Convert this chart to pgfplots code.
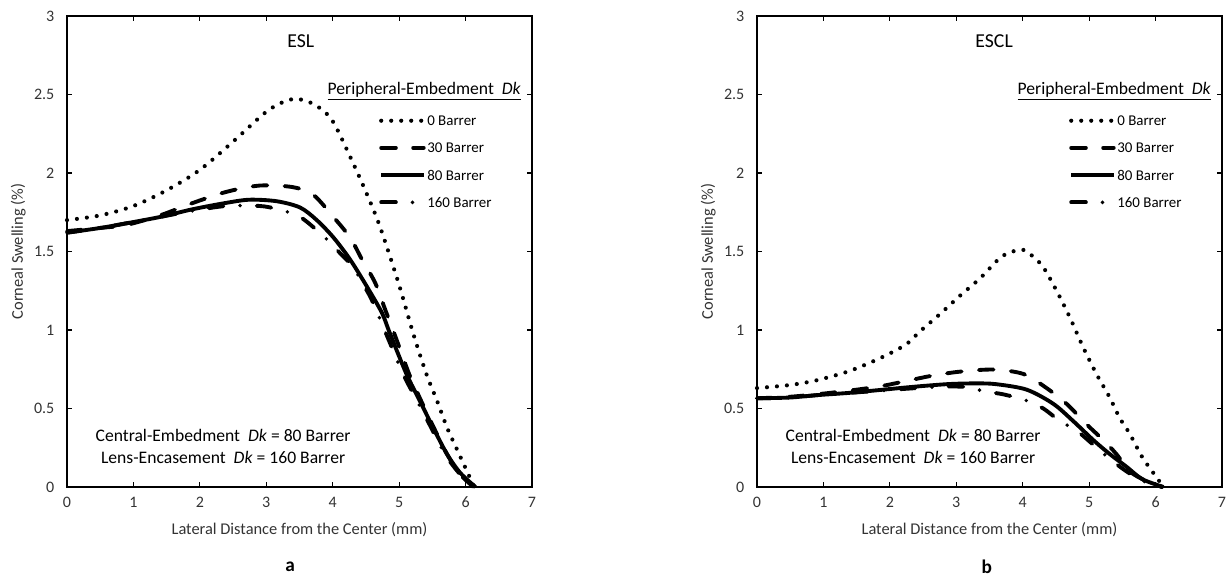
\documentclass[border=0pt]{standalone}
\usepackage{fontspec}
\setmainfont{Carlito}
\usepackage{pgfplots}
\pgfplotsset{compat=1.18}

\pgfplotsset{
  swell/.style={
    scale only axis, width=348.75pt, height=353.25pt,
    xmin=0, xmax=7, ymin=0, ymax=3,
    xtick={0,1,...,7}, ytick={0,0.5,1,1.5,2,2.5,3},
    tick align=inside, major tick length=4pt,
    axis line style={line width=1.1pt},
    every tick/.style={line width=0.9pt, black},
    tick label style={font=\fontsize{12}{14}\selectfont, text=black!80},
    xticklabel style={yshift=-4pt},
    yticklabel style={xshift=-6pt},
    /pgf/number format/assume math mode=true,
    xlabel={Lateral Distance from the Center (mm)},
    ylabel={Corneal Swelling (\%)},
    label style={font=\fontsize{12.3}{14}\selectfont, text=black!80},
    xlabel style={at={(axis description cs:0.5,-0.0913)}, anchor=center},
    ylabel style={at={(axis description cs:-0.105,0.5)}, anchor=center},
    clip=false,
  },
  s0/.style={line width=3.1pt, line cap=round, dash pattern=on 0pt off 7.5pt},
  s30/.style={line width=2.9pt, line cap=round, dash pattern=on 11pt off 13pt},
  s80/.style={line width=2.9pt},
  s160/.style={line width=2.9pt, line cap=round, dash pattern=on 11pt off 12.5pt on 0pt off 12.5pt},
}

% legend + notes shared by both panels
\newcommand{\swellkey}{%
  \addplot[s0, forget plot] coordinates {(4.73,2.333) (5.37,2.333)};
  \addplot[s30, forget plot] coordinates {(4.73,2.161) (5.37,2.161)};
  \addplot[s80, forget plot] coordinates {(4.73,1.987) (5.37,1.987)};
  \addplot[s160, forget plot] coordinates {(4.73,1.813) (5.37,1.813)};
  \node[anchor=west, inner sep=0pt, font=\fontsize{11.2}{13}\selectfont] at (axis cs:5.42,2.333) {0 Barrer};
  \node[anchor=west, inner sep=0pt, font=\fontsize{11.2}{13}\selectfont] at (axis cs:5.42,2.161) {30 Barrer};
  \node[anchor=west, inner sep=0pt, font=\fontsize{11.2}{13}\selectfont] at (axis cs:5.42,1.987) {80 Barrer};
  \node[anchor=west, inner sep=0pt, font=\fontsize{11.2}{13}\selectfont] at (axis cs:5.42,1.813) {160 Barrer};
  \node[anchor=west, inner sep=0pt, font=\fontsize{13.2}{15}\selectfont] at (axis cs:3.92,2.524) {\underline{Peripheral-Embedment\ \ \textit{Dk}}};
  \node[align=center, font=\fontsize{13.2}{16.2}\selectfont] at (axis cs:2.35,0.26)
    {Central-Embedment\ \ \textit{Dk} = 80 Barrer\\Lens-Encasement\ \ \textit{Dk} = 160 Barrer};
}

\begin{document}
\begin{tikzpicture}
\path[use as bounding box] (0pt,0pt) rectangle (921.75pt,-434.25pt);

% ---- panel a: ESL
\begin{axis}[swell, at={(50.25pt,-365.25pt)}, anchor=south west]
  \addplot[s0, smooth] coordinates {(0,1.70) (0.5,1.73) (1,1.79) (1.5,1.89) (2,2.02) (2.5,2.20) (3,2.39) (3.3,2.46) (3.5,2.47) (3.75,2.43) (4.0,2.33) (4.31,2.06) (4.51,1.87) (4.71,1.66) (4.99,1.30) (5.21,0.98) (5.41,0.72) (5.57,0.55) (5.72,0.38) (5.87,0.24) (6.0,0.12) (6.13,0)};
  \addplot[s30, smooth] coordinates {(0,1.63) (0.5,1.65) (0.9,1.67) (1.4,1.73) (1.9,1.81) (2.4,1.88) (2.9,1.92) (3.4,1.91) (3.71,1.86) (4.01,1.72) (4.26,1.59) (4.44,1.45) (4.64,1.30) (4.79,1.13) (4.96,0.94) (5.15,0.72) (5.33,0.55) (5.52,0.38) (5.72,0.21) (5.92,0.08) (6.12,0)};
  \addplot[s80, smooth] coordinates {(0,1.62) (0.5,1.65) (0.9,1.68) (1.4,1.72) (1.9,1.77) (2.4,1.81) (2.75,1.83) (3.16,1.82) (3.51,1.78) (3.76,1.70) (4.01,1.59) (4.26,1.45) (4.51,1.28) (4.74,1.11) (4.86,0.98) (5.11,0.72) (5.31,0.55) (5.51,0.38) (5.72,0.21) (5.92,0.09) (6.15,0)};
  \addplot[s160, smooth] coordinates {(0,1.62) (0.5,1.65) (0.9,1.68) (1.4,1.72) (1.9,1.76) (2.4,1.79) (2.9,1.79) (3.16,1.77) (3.51,1.72) (3.88,1.59) (4.11,1.49) (4.31,1.40) (4.46,1.29) (4.59,1.19) (4.82,0.96) (5.06,0.72) (5.27,0.55) (5.48,0.38) (5.69,0.21) (5.9,0.09) (6.12,0)};
  \swellkey
  \node[font=\fontsize{14.8}{17}\selectfont] at (axis cs:3.52,2.84) {ESL};
  \node[font=\bfseries\fontsize{14.5}{16}\selectfont] at (axis description cs:0.48,-0.170) {a};
\end{axis}

% ---- panel b: ESCL
\begin{axis}[swell, at={(567.75pt,-365.25pt)}, anchor=south west]
  \addplot[s0, smooth] coordinates {(0,0.63) (0.5,0.65) (0.9,0.68) (1.4,0.74) (1.9,0.83) (2.25,0.91) (2.45,0.99) (2.75,1.10) (3.06,1.22) (3.36,1.33) (3.66,1.46) (3.85,1.50) (4.01,1.51) (4.15,1.47) (4.31,1.40) (4.51,1.25) (4.71,1.08) (4.91,0.89) (5.11,0.72) (5.31,0.57) (5.46,0.44) (5.61,0.34) (5.8,0.19) (6.0,0.07) (6.12,0)};
  \addplot[s30, smooth] coordinates {(0,0.565) (0.5,0.575) (1,0.595) (1.5,0.62) (1.9,0.645) (2.3,0.68) (2.65,0.71) (3.06,0.735) (3.56,0.748) (4.01,0.72) (4.36,0.63) (4.66,0.53) (4.96,0.40) (5.21,0.30) (5.41,0.21) (5.61,0.10) (5.85,0.04) (6.1,0)};
  \addplot[s80, smooth] coordinates {(0,0.565) (0.5,0.57) (0.9,0.585) (1.4,0.60) (1.9,0.62) (2.4,0.64) (2.9,0.656) (3.3,0.66) (3.6,0.655) (4.06,0.62) (4.46,0.53) (4.76,0.42) (5.06,0.30) (5.31,0.21) (5.56,0.13) (5.8,0.05) (6.12,0)};
  \addplot[s160, smooth] coordinates {(0,0.565) (0.5,0.57) (0.9,0.585) (1.4,0.60) (1.9,0.615) (2.4,0.63) (2.9,0.64) (3.2,0.635) (3.41,0.61) (3.71,0.59) (4.06,0.55) (4.31,0.50) (4.56,0.42) (4.81,0.36) (5.06,0.27) (5.31,0.18) (5.56,0.10) (5.8,0.04) (6.1,0)};
  \swellkey
  \node[font=\fontsize{14.8}{17}\selectfont] at (axis cs:3.57,2.84) {ESCL};
  \node[font=\bfseries\fontsize{14.5}{16}\selectfont] at (axis description cs:0.494,-0.170) {b};
\end{axis}
\end{tikzpicture}
\end{document}
